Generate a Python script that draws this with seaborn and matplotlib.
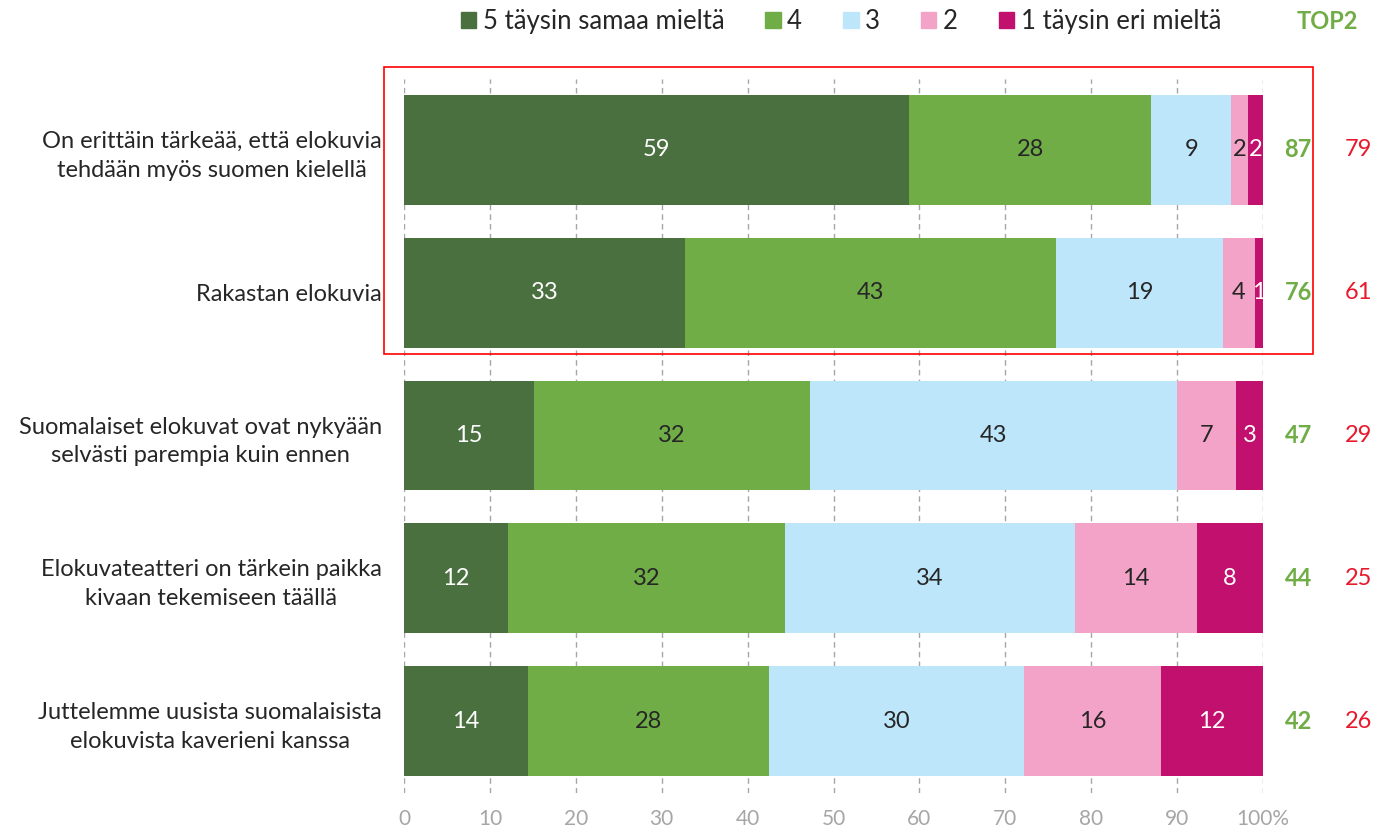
import matplotlib
matplotlib.use("Agg")
import matplotlib.pyplot as plt
import matplotlib.patches as mpatches
import numpy as np
import pandas as pd
import seaborn as sns

# -----------------------------------------------------
# Data (percent of answers)
# -----------------------------------------------------
categories = [
    "On erittäin tärkeää, että elokuvia\ntehdään myös suomen kielellä",
    "Rakastan elokuvia",
    "Suomalaiset elokuvat ovat nykyään\nselvästi parempia kuin ennen",
    "Elokuvateatteri on tärkein paikka\nkivaan tekemiseen täällä",
    "Juttelemme uusista suomalaisista\nelokuvista kaverieni kanssa",
]
levels = ["5 täysin samaa mieltä", "4", "3", "2", "1 täysin eri mieltä"]
share5 = [58.8, 32.7, 15.1, 12.1, 14.4]
share4 = [28.2, 43.2, 32.2, 32.3, 28.1]
share3 = [9.3, 19.4, 42.7, 33.7, 29.7]
share2 = [1.9, 3.8, 6.9, 14.2, 15.9]
share1 = [1.8, 0.9, 3.1, 7.7, 11.9]
top2 = [87, 76, 47, 44, 42]
side_values = [79, 61, 29, 25, 26]
xticks = [0, 10, 20, 30, 40, 50, 60, 70, 80, 90, 100]
xtick_labels = ["0", "10", "20", "30", "40", "50", "60", "70", "80", "90", "100%"]

colors = ["#4a7040", "#70ad47", "#bde6fa", "#f4a3c8", "#c2106e"]
text_colors = ["white", "#262626", "#262626", "#262626", "white"]

# -----------------------------------------------------
# Style
# -----------------------------------------------------
sns.set_theme(style="white")
plt.rcParams["font.family"] = ["Lato", "DejaVu Sans"]

df = pd.DataFrame({"category": categories, levels[0]: share5, levels[1]: share4,
                   levels[2]: share3, levels[3]: share2, levels[4]: share1})
cum = df[levels].cumsum(axis=1)

fig = plt.figure(figsize=(13.74, 8.35), dpi=100)
ax = fig.add_axes([404 / 1374, 1 - 792.5 / 835, (1263 - 404) / 1374, (792.5 - 78.5) / 835])

# stacked bars: draw cumulative totals from the widest down
handles = []
for lev, col in reversed(list(zip(levels, colors))):
    sns.barplot(x=cum[lev], y=df["category"], color=col, width=0.77,
                saturation=1, linewidth=0, ax=ax, orient="h")
    handles.insert(0, mpatches.Patch(color=col, label=lev))

# segment labels
for j, lev in enumerate(levels):
    starts = cum[lev] - df[lev]
    for i, v in enumerate(df[lev]):
        ax.text(starts[i] + v / 2, i, f"{round(v)}", ha="center", va="center",
                fontsize=17, color=text_colors[j])

# TOP2 and side values
for i in range(len(categories)):
    ax.text(104.1, i, str(top2[i]), ha="center", va="center", fontsize=17,
            fontweight="bold", color="#70ad47", clip_on=False)
    ax.text(111.1, i, str(side_values[i]), ha="center", va="center", fontsize=17,
            color="#e8192c", clip_on=False)

# red frame around the first two statements
ax.add_patch(mpatches.Rectangle((-2.33, -0.58), 108.1, 2.01, fill=False,
                                edgecolor="#ff0000", linewidth=1.2, clip_on=False))

ax.set_xlim(0, 100)
ax.set_ylim(len(categories) - 0.5, -0.5)
ax.set_xticks(xticks)
ax.set_xticklabels(xtick_labels, color="#a6a6a6", fontsize=15)
ax.set_xlabel("")
ax.set_ylabel("")
ax.set_yticks(range(len(categories)))
ax.set_yticklabels(categories, fontsize=17, color="#262626", multialignment="center",
                   linespacing=1.45)
ax.tick_params(axis="x", length=0, pad=12)
ax.tick_params(axis="y", length=0, pad=16)
ax.xaxis.grid(True, linestyle=(0, (4, 3)), color="#a6a6a6", linewidth=1)
ax.set_axisbelow(True)
for s in ax.spines.values():
    s.set_visible(False)

fig.legend(handles=handles, loc="center", bbox_to_anchor=(0.612, 0.974), ncol=5,
           frameon=False, fontsize=18.5, handlelength=0.6, handleheight=0.6,
           handletextpad=0.25, columnspacing=1.6, labelcolor="#262626")
fig.text(0.966, 0.974, "TOP2", ha="center", va="center", fontsize=17,
         fontweight="bold", color="#70ad47")

fig.savefig("out.png", dpi=100)
